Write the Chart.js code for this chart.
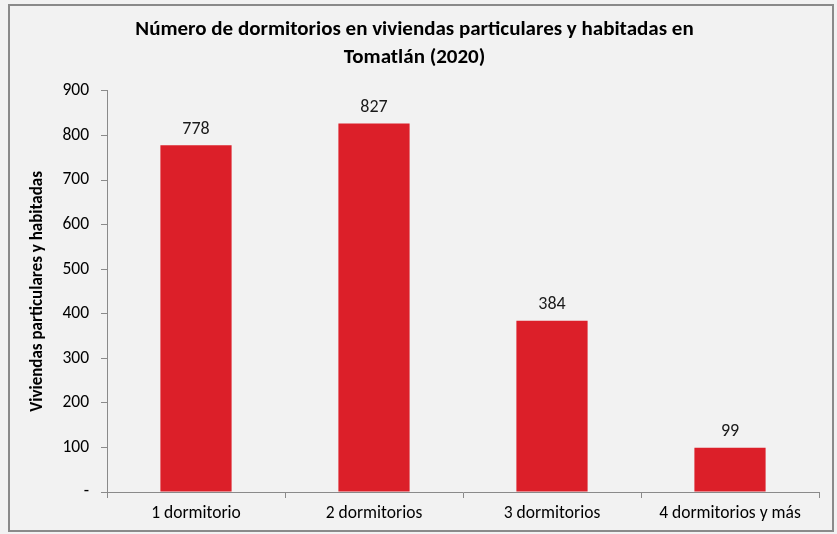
<!DOCTYPE html>
<html>
<head>
<meta charset="utf-8">
<script src="https://cdn.jsdelivr.net/npm/chart.js@4"></script>
<style>
  html, body { margin:0; padding:0; background:#ffffff; }
  #wrap { width:837px; height:534px; }
</style>
</head>
<body>
<div id="wrap"><canvas id="c" width="837" height="534"></canvas></div>
<script>
// Dormitorios por vivienda, Tomatlán 2020
const categories = ['1 dormitorio','2 dormitorios','3 dormitorios','4 dormitorios y más'];
const viviendas = [778, 827, 384, 99];
const yTicks = [0,100,200,300,400,500,600,700,800,900];

const FONT = "Carlito, Lato, 'Open Sans', sans-serif";

// frame + grey background like the spreadsheet chart
const framePlugin = {
  id:'frame',
  beforeDraw(chart){
    const ctx = chart.ctx;
    ctx.save();
    ctx.fillStyle = '#f2f2f2';
    ctx.fillRect(0,0,chart.width,chart.height);
    ctx.strokeStyle = '#8a8a8a';
    ctx.lineWidth = 2;
    ctx.strokeRect(9,5,824,526);
    ctx.restore();
  }
};

// values above the bars
const valueLabels = {
  id:'valueLabels',
  afterDatasetsDraw(chart){
    const ctx = chart.ctx;
    const meta = chart.getDatasetMeta(0);
    ctx.save();
    ctx.font = '18px ' + FONT;
    ctx.fillStyle = '#1a1a1a';
    ctx.textAlign = 'center';
    ctx.textBaseline = 'bottom';
    meta.data.forEach((bar,i)=>{
      ctx.fillText(String(chart.data.datasets[0].data[i]), bar.x, bar.y - 7);
    });
    ctx.restore();
  }
};

new Chart(document.getElementById('c'), {
  type:'bar',
  data:{
    labels:categories,
    datasets:[{
      label:'Viviendas',
      data:viviendas,
      backgroundColor:'#dc1f29',
      borderWidth:0,
      barPercentage:0.8,
      categoryPercentage:0.5
    }]
  },
  options:{
    responsive:false,
    animation:false,
    layout:{padding:{left:10,right:18,top:0,bottom:4}},
    plugins:{
      legend:{display:false},
      tooltip:{enabled:false},
      title:{
        display:true,
        text:['Número de dormitorios en viviendas particulares y habitadas en','Tomatlán (2020)'],
        color:'#000',
        font:{family:FONT, size:21, weight:'bold', lineHeight:1.33},
        padding:{top:16,bottom:19}
      }
    },
    scales:{
      x:{
        grid:{drawOnChartArea:false, drawTicks:true, tickLength:6, color:'#8a8a8a', offset:true},
        border:{display:true, color:'#8a8a8a', width:1},
        ticks:{color:'#000', font:{family:FONT, size:17.5}, padding:5, maxRotation:0},
        afterFit(s){ s.height = 38; }
      },
      y:{
        min:0, max:900,
        afterBuildTicks(s){ s.ticks = yTicks.map(v=>({value:v})); },
        grid:{drawOnChartArea:false, drawTicks:true, tickLength:6, color:'#8a8a8a'},
        border:{display:true, color:'#8a8a8a', width:1},
        ticks:{color:'#000', font:{family:FONT, size:17.5}, padding:12,
          callback:(v)=> v===0 ? '-' : v},
        title:{display:true, text:'Viviendas particulares y habitadas', color:'#000',
          font:{family:FONT, size:17, weight:'bold'}, padding:{top:18,bottom:0}},
        afterFit(s){ s.width = 97; }
      }
    }
  },
  plugins:[framePlugin, valueLabels]
});
</script>
</body>
</html>
